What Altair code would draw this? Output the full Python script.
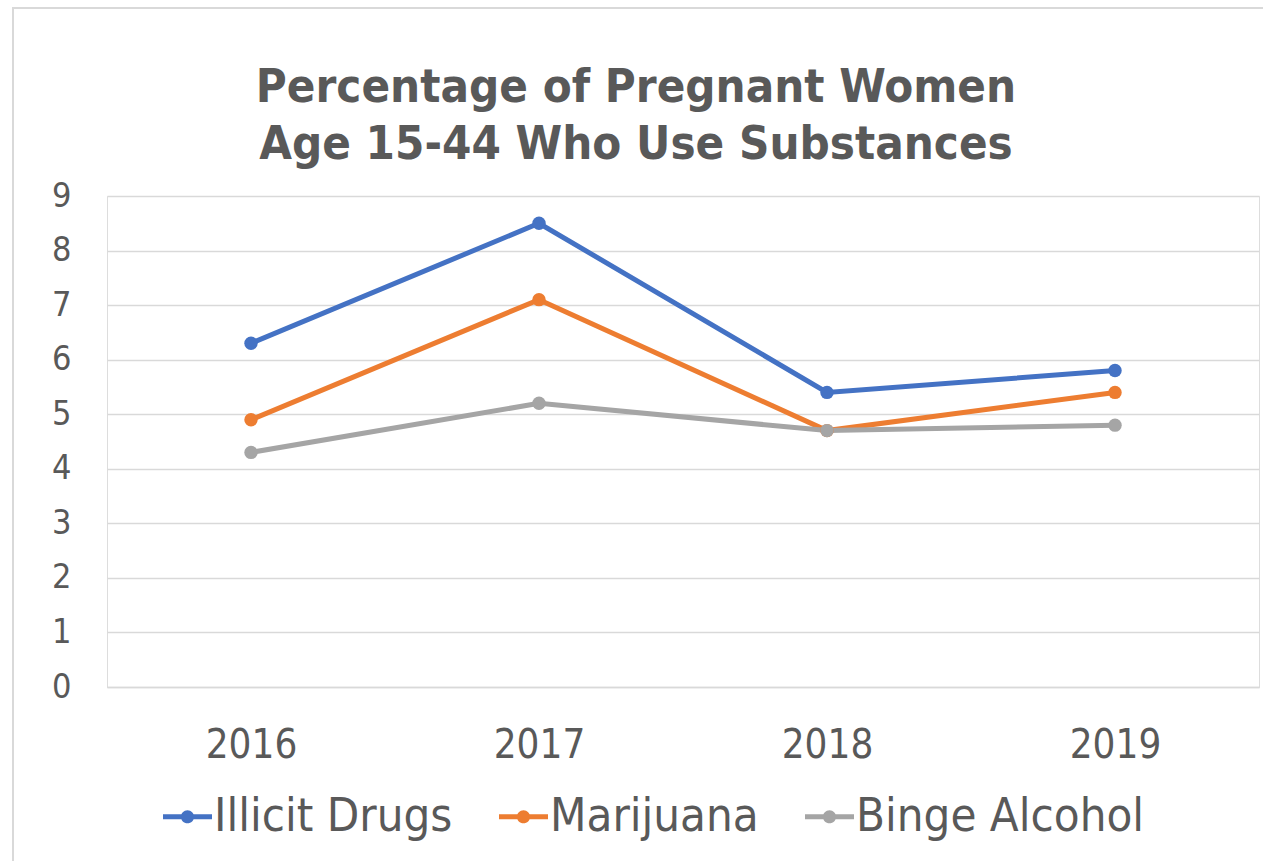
import altair as alt
import pandas as pd

years = ["2016", "2017", "2018", "2019"]
illicit_drugs = [6.3, 8.5, 5.4, 5.8]
marijuana = [4.9, 7.1, 4.7, 5.4]
binge_alcohol = [4.3, 5.2, 4.7, 4.8]

series_names = ["Illicit Drugs", "Marijuana", "Binge Alcohol"]
series_colors = ["#4472C4", "#ED7D31", "#A5A5A5"]

title_lines = ["Percentage of Pregnant Women", "Age 15-44 Who Use Substances"]

rows = []
for name, values in zip(series_names, [illicit_drugs, marijuana, binge_alcohol]):
    for year, value in zip(years, values):
        rows.append({"Year": year, "Series": name, "Value": value})
df = pd.DataFrame(rows)

FONT = "DejaVu Sans Condensed, Liberation Sans Narrow, DejaVu Sans, sans-serif"
TEXT = "#595959"
GRID = "#D9D9D9"

# legend glyph: short thick line with a dot in the middle
LINE_DOT = ("M-1,-0.1H1V0.1H-1Z "
            "M0.27,0A0.27,0.27 0 1 1 -0.27,0A0.27,0.27 0 1 1 0.27,0Z")

x_enc = alt.X(
    "Year:N",
    sort=years,
    scale=alt.Scale(type="point", padding=0.5),
    axis=alt.Axis(
        title=None, labelAngle=0, ticks=False, grid=False,
        domainColor=GRID, domainWidth=1.5,
        labelFontSize=40, labelColor=TEXT, labelFont=FONT, labelPadding=38,
    ),
)
y_enc = alt.Y(
    "Value:Q",
    scale=alt.Scale(domain=[0, 9], nice=False),
    axis=alt.Axis(
        title=None, values=list(range(0, 10)), domain=False, ticks=False,
        gridColor=GRID, gridWidth=1.5,
        labelFontSize=34, labelColor=TEXT, labelFont=FONT, labelPadding=36,
    ),
)
color_enc = alt.Color(
    "Series:N",
    sort=series_names,
    scale=alt.Scale(domain=series_names, range=series_colors),
    legend=alt.Legend(
        title=None, orient="none", direction="horizontal",
        legendX=56, legendY=596, padding=0,
        symbolType=LINE_DOT, symbolSize=2401, symbolStrokeWidth=0,
        labelFontSize=47, labelColor=TEXT, labelFont=FONT, labelLimit=400,
        labelOffset=2, columnPadding=46,
    ),
)

base = alt.Chart(df)
lines = base.mark_line(strokeWidth=5).encode(
    x=x_enc, y=y_enc, color=color_enc, detail="Series:N"
)
points = base.mark_point(filled=True, size=180, opacity=1).encode(
    x=x_enc, y=y_enc, color=color_enc
)

# thin frame around the whole chart area
frame = alt.Chart(pd.DataFrame({"k": [0]})).mark_rect(
    fill=None, stroke=GRID, strokeWidth=2, clip=False
).encode(
    x=alt.value(-94), x2=alt.value(1170), y=alt.value(-188), y2=alt.value(700)
)

# two-line bold heading above the plot
heading = alt.Chart(pd.DataFrame({"t": ["\n".join(title_lines)]})).mark_text(
    font=FONT, fontSize=47, fontWeight="bold", color=TEXT,
    align="center", baseline="alphabetic", lineBreak="\n", lineHeight=57,
    clip=False,
).encode(
    text="t:N", x=alt.value(529), y=alt.value(-94)
)

chart = alt.layer(frame, lines, points, heading).properties(
    width=1152,
    height=491,
    autosize=alt.AutoSizeParams(type="none"),
    padding={"left": 107, "top": 196, "right": 4, "bottom": 174},
).configure_view(stroke=None).configure(background="white")

chart.save("out.html", embed_options={"renderer": "svg", "actions": False})
